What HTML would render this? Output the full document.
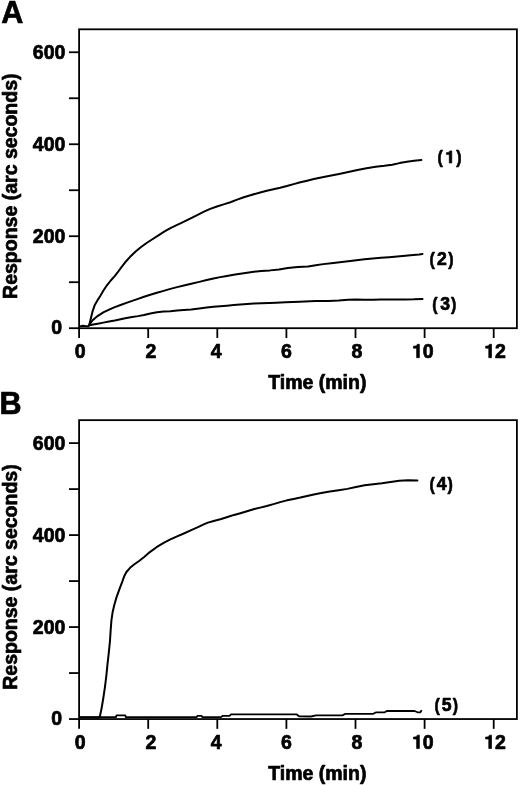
<!DOCTYPE html>
<html><head><meta charset="utf-8"><title>Figure</title>
<style>
html,body{margin:0;padding:0;background:#fff;}
body{width:520px;height:785px;overflow:hidden;}
svg{display:block;will-change:transform;}
text{font-family:"Liberation Sans", sans-serif;font-weight:bold;fill:#000;stroke:#000;stroke-width:0.7px;stroke-linejoin:round;}
.g{fill:#000;stroke:#000;stroke-linejoin:round;}
</style></head>
<body>
<svg width="520" height="785" viewBox="0 0 520 785">
<rect width="520" height="785" fill="#fff"/>
<text x="1.2" y="22.9" font-size="30.6" text-anchor="start">A</text>
<text x="-0.5" y="413.7" font-size="30.6" text-anchor="start">B</text>
<rect x="79.1" y="29.3" width="437.8" height="298.9" fill="none" stroke="#000" stroke-width="1.8"/>
<line x1="69" y1="328.2" x2="79.1" y2="328.2" stroke="#000" stroke-width="1.8"/>
<line x1="69" y1="282.21" x2="79.1" y2="282.21" stroke="#000" stroke-width="1.8"/>
<line x1="69" y1="236.22" x2="79.1" y2="236.22" stroke="#000" stroke-width="1.8"/>
<line x1="69" y1="190.23" x2="79.1" y2="190.23" stroke="#000" stroke-width="1.8"/>
<line x1="69" y1="144.24" x2="79.1" y2="144.24" stroke="#000" stroke-width="1.8"/>
<line x1="69" y1="98.25" x2="79.1" y2="98.25" stroke="#000" stroke-width="1.8"/>
<line x1="69" y1="52.26" x2="79.1" y2="52.26" stroke="#000" stroke-width="1.8"/>
<line x1="79.1" y1="328.2" x2="79.1" y2="338" stroke="#000" stroke-width="1.8"/>
<line x1="148.2" y1="328.2" x2="148.2" y2="338" stroke="#000" stroke-width="1.8"/>
<line x1="217.3" y1="328.2" x2="217.3" y2="338" stroke="#000" stroke-width="1.8"/>
<line x1="286.4" y1="328.2" x2="286.4" y2="338" stroke="#000" stroke-width="1.8"/>
<line x1="355.5" y1="328.2" x2="355.5" y2="338" stroke="#000" stroke-width="1.8"/>
<line x1="424.6" y1="328.2" x2="424.6" y2="338" stroke="#000" stroke-width="1.8"/>
<line x1="493.7" y1="328.2" x2="493.7" y2="338" stroke="#000" stroke-width="1.8"/>
<rect x="79.1" y="420.15" width="437.8" height="298.9" fill="none" stroke="#000" stroke-width="1.8"/>
<line x1="69" y1="719.05" x2="79.1" y2="719.05" stroke="#000" stroke-width="1.8"/>
<line x1="69" y1="673.06" x2="79.1" y2="673.06" stroke="#000" stroke-width="1.8"/>
<line x1="69" y1="627.07" x2="79.1" y2="627.07" stroke="#000" stroke-width="1.8"/>
<line x1="69" y1="581.08" x2="79.1" y2="581.08" stroke="#000" stroke-width="1.8"/>
<line x1="69" y1="535.09" x2="79.1" y2="535.09" stroke="#000" stroke-width="1.8"/>
<line x1="69" y1="489.1" x2="79.1" y2="489.1" stroke="#000" stroke-width="1.8"/>
<line x1="69" y1="443.11" x2="79.1" y2="443.11" stroke="#000" stroke-width="1.8"/>
<line x1="79.1" y1="719.05" x2="79.1" y2="728.85" stroke="#000" stroke-width="1.8"/>
<line x1="148.2" y1="719.05" x2="148.2" y2="728.85" stroke="#000" stroke-width="1.8"/>
<line x1="217.3" y1="719.05" x2="217.3" y2="728.85" stroke="#000" stroke-width="1.8"/>
<line x1="286.4" y1="719.05" x2="286.4" y2="728.85" stroke="#000" stroke-width="1.8"/>
<line x1="355.5" y1="719.05" x2="355.5" y2="728.85" stroke="#000" stroke-width="1.8"/>
<line x1="424.6" y1="719.05" x2="424.6" y2="728.85" stroke="#000" stroke-width="1.8"/>
<line x1="493.7" y1="719.05" x2="493.7" y2="728.85" stroke="#000" stroke-width="1.8"/>
<text x="65.4" y="243.12" font-size="19.5" text-anchor="end">200</text>
<text x="65.4" y="151.14" font-size="19.5" text-anchor="end">400</text>
<text x="65.4" y="59.16" font-size="19.5" text-anchor="end">600</text>
<text x="62" y="334.2" font-size="19.5" text-anchor="end">0</text>
<text x="74.79" y="357.7" font-size="19.5">0</text>
<text x="145.48" y="357.7" font-size="19.5">2</text>
<text x="210.78" y="357.7" font-size="19.5">4</text>
<text x="280.97" y="357.7" font-size="19.5">6</text>
<text x="351.42" y="357.7" font-size="19.5">8</text>
<path class="g" d="M380 0L380 688L275 688C262 635 225 605 165 595C130 590 105 588 77 588L77 490L240 490L240 0Z" transform="translate(411.96 357.7) scale(0.01950 -0.01950)" stroke-width="35.9"/>
<text x="422.8" y="357.7" font-size="19.5">0</text>
<path class="g" d="M380 0L380 688L275 688C262 635 225 605 165 595C130 590 105 588 77 588L77 490L240 490L240 0Z" transform="translate(484.1 357.7) scale(0.01950 -0.01950)" stroke-width="35.9"/>
<text x="494.94" y="357.7" font-size="19.5">2</text>
<text x="317.3" y="388.8" font-size="19.5" text-anchor="middle">Time (min)</text>
<text transform="translate(17.3 186.2) rotate(-90)" font-size="19.5" text-anchor="middle">Response (arc seconds)</text>
<text x="65.4" y="633.97" font-size="19.5" text-anchor="end">200</text>
<text x="65.4" y="541.99" font-size="19.5" text-anchor="end">400</text>
<text x="65.4" y="450.01" font-size="19.5" text-anchor="end">600</text>
<text x="62" y="725.05" font-size="19.5" text-anchor="end">0</text>
<text x="74.79" y="748.55" font-size="19.5">0</text>
<text x="145.48" y="748.55" font-size="19.5">2</text>
<text x="210.78" y="748.55" font-size="19.5">4</text>
<text x="280.97" y="748.55" font-size="19.5">6</text>
<text x="351.42" y="748.55" font-size="19.5">8</text>
<path class="g" d="M380 0L380 688L275 688C262 635 225 605 165 595C130 590 105 588 77 588L77 490L240 490L240 0Z" transform="translate(411.96 748.55) scale(0.01950 -0.01950)" stroke-width="35.9"/>
<text x="422.8" y="748.55" font-size="19.5">0</text>
<path class="g" d="M380 0L380 688L275 688C262 635 225 605 165 595C130 590 105 588 77 588L77 490L240 490L240 0Z" transform="translate(484.1 748.55) scale(0.01950 -0.01950)" stroke-width="35.9"/>
<text x="494.94" y="748.55" font-size="19.5">2</text>
<text x="317.3" y="779.65" font-size="19.5" text-anchor="middle">Time (min)</text>
<text transform="translate(17.3 577.05) rotate(-90)" font-size="19.5" text-anchor="middle">Response (arc seconds)</text>
<text transform="translate(437.56 163) scale(0.83 1)" font-size="19.2">(</text>
<path class="g" d="M380 0L380 688L275 688C262 635 225 605 165 595C130 590 105 588 77 588L77 490L240 490L240 0Z" transform="translate(445.08 163) scale(0.01760 -0.01760)" stroke-width="39.77"/>
<text transform="translate(456.13 163) scale(0.83 1)" font-size="19.2">)</text>
<text transform="translate(429.56 265) scale(0.83 1)" font-size="19.2">(</text>
<text x="437" y="265" font-size="17.6">2</text>
<text transform="translate(448.13 265) scale(0.83 1)" font-size="19.2">)</text>
<text transform="translate(432.36 310.1) scale(0.83 1)" font-size="19.2">(</text>
<text x="440.17" y="310.1" font-size="17.6">3</text>
<text transform="translate(450.93 310.1) scale(0.83 1)" font-size="19.2">)</text>
<text transform="translate(429.56 490.3) scale(0.83 1)" font-size="19.2">(</text>
<text x="436.72" y="490.3" font-size="17.6">4</text>
<text transform="translate(447.53 490.3) scale(0.83 1)" font-size="19.2">)</text>
<text transform="translate(434.56 710.9) scale(0.83 1)" font-size="19.2">(</text>
<text x="441.63" y="710.9" font-size="17.6">5</text>
<text transform="translate(452.83 710.9) scale(0.83 1)" font-size="19.2">)</text>
<path d="M80 326.4 L82.5 325.7 L85 326 L88.5 326.2 L89.1 325.4 L90.65 319.35 L92.47 311.65 L94.8 304.95 L97.53 300.33 L100.4 295.7 L103.45 290.5 L106.92 285.3 L110.95 280.25 L114.7 276.08 L117.6 272.47 L120.9 267.88 L125.2 262.27 L130.1 256.8 L135.6 251.6 L141.1 246.97 L146.62 243.02 L152.75 239.02 L158.83 235.07 L164.6 231.37 L170.4 228.15 L176.17 225.4 L182.5 222.35 L189.65 218.85 L196.72 215.35 L203.48 211.95 L210.2 208.9 L216.9 206.48 L223.62 204.4 L230.38 202.22 L237.1 199.68 L243.83 197.2 L251.25 194.95 L259.32 192.7 L266.73 190.8 L273.48 189.3 L280.2 187.82 L286.9 186.07 L293.62 184.1 L300.38 182.32 L307.1 180.7 L313.83 179 L321.25 177.45 L329.93 175.85 L339.12 173.97 L348.27 172.03 L357.42 170 L366.57 168.18 L375.7 166.8 L384.38 165.85 L392.18 164.8 L399.5 163.1 L406.8 161.65 L414.1 160.82 L421.4 160" fill="none" stroke="#000" stroke-width="2.0" stroke-linejoin="round" stroke-linecap="round"/>
<path d="M89.5 324.5 L92.65 320.27 L97.53 316.07 L103.3 312.45 L109.08 309.55 L114.82 307.15 L120.6 305 L126.4 302.9 L132.17 300.88 L138 298.85 L144.02 296.7 L150.32 294.68 L156.9 292.82 L163.62 290.88 L170.38 288.9 L177.1 287.12 L183.83 285.5 L191.25 283.77 L199.32 281.85 L206.72 280 L213.48 278.45 L220.2 277.12 L226.9 275.93 L233.62 274.85 L240.38 273.85 L247.1 272.82 L253.83 271.85 L261.25 271.02 L270 270.38 L279.07 269.4 L287.82 268 L297.92 267.12 L308.02 266.45 L315.75 265.27 L323.15 264.12 L331.25 263.23 L339.7 262.32 L348.18 261.3 L356.32 260.27 L364.5 259.35 L372.7 258.47 L380.88 257.77 L389.03 257.17 L397.2 256.47 L405.4 255.78 L413.17 255.12 L419.08 254.53 L422.5 254" fill="none" stroke="#000" stroke-width="2.0" stroke-linejoin="round" stroke-linecap="round"/>
<path d="M89.5 325.2 L93.2 324.45 L97.8 323.65 L103.3 322.62 L109.08 321.6 L114.82 320.57 L120.6 319.3 L126.4 318.02 L132.17 317 L138 316.12 L144.02 314.97 L150.32 313.45 L156.9 312.2 L163.62 311.62 L170.38 311.23 L177.1 310.6 L183.83 310.07 L191.25 309.45 L199.32 308.42 L206.72 307.45 L213.48 306.75 L220.2 306.22 L226.9 305.73 L233.62 305.1 L240.38 304.45 L247.1 303.92 L253.83 303.5 L261.25 303.18 L269.32 303.05 L276.05 302.83 L285.48 302.35 L299.6 301.75 L310.05 301.15 L315.77 300.95 L321.12 301 L328.52 300.9 L338.68 300.38 L348.18 299.67 L356.32 299.5 L364.5 299.7 L372.7 299.7 L380.88 299.5 L389.03 299.4 L397.2 299.4 L405.4 299.4 L413.77 299.27 L422.5 298.9" fill="none" stroke="#000" stroke-width="2.0" stroke-linejoin="round" stroke-linecap="round"/>
<path d="M80 717.4 L99.5 717.4 L99.7 717.1 L101.47 709.08 L103.2 698.78 L104.9 687.3 L106.33 675.82 L107.47 664.38 L108.78 652.92 L109.93 641.48 L110.65 630.38 L111.42 620.48 L112.62 612.2 L114.35 604.7 L116.65 596.9 L119.55 588.83 L122.3 581.65 L124.17 576.33 L126.45 571.98 L130.05 567.85 L134.4 564.22 L139.4 560.7 L144.45 556.72 L149.83 552.08 L156.55 547.2 L163.62 542.95 L170.38 539.4 L177.1 536.35 L183.83 533.5 L191.25 530.2 L198.53 526.88 L203.7 524.4 L207.9 522.62 L213.67 521.02 L221.22 519.05 L228.28 516.82 L234 514.92 L240.4 513.18 L247.8 511.05 L254.3 509.07 L260.23 507.65 L266.73 506.05 L273.48 504.1 L280.2 502.15 L286.9 500.35 L293.62 498.9 L300.38 497.58 L307.1 496 L313.83 494.47 L321.25 493.07 L329.82 491.6 L338.68 490.23 L347.32 488.88 L355.98 487.07 L364.62 485.27 L373.27 484.2 L381.92 483.27 L390.57 481.98 L399.23 480.73 L408.1 480.2 L417.4 480.4" fill="none" stroke="#000" stroke-width="2.0" stroke-linejoin="round" stroke-linecap="round"/>
<path d="M80 717.2 L116 717.2 L116.5 715.3 L125.3 715.3 L125.8 717.2 L196.5 717.2 L197.5 715.8 L201.5 715.8 L202.5 717.2 L221 717.2 L222.5 715.8 L229.5 715.8 L231 714.3 L296.5 714.3 L299 716.3 L311 716.5 L316 715.4 L342.5 715.4 L345.4 713.8 L373.3 713.8 L376.2 712.3 L384.8 712.3 L386.7 711 L414.6 711 L417.5 712.3 L420.4 712.3 L421.3 710.8" fill="none" stroke="#000" stroke-width="1.8" stroke-linejoin="round" stroke-linecap="round"/>
</svg>
</body></html>
